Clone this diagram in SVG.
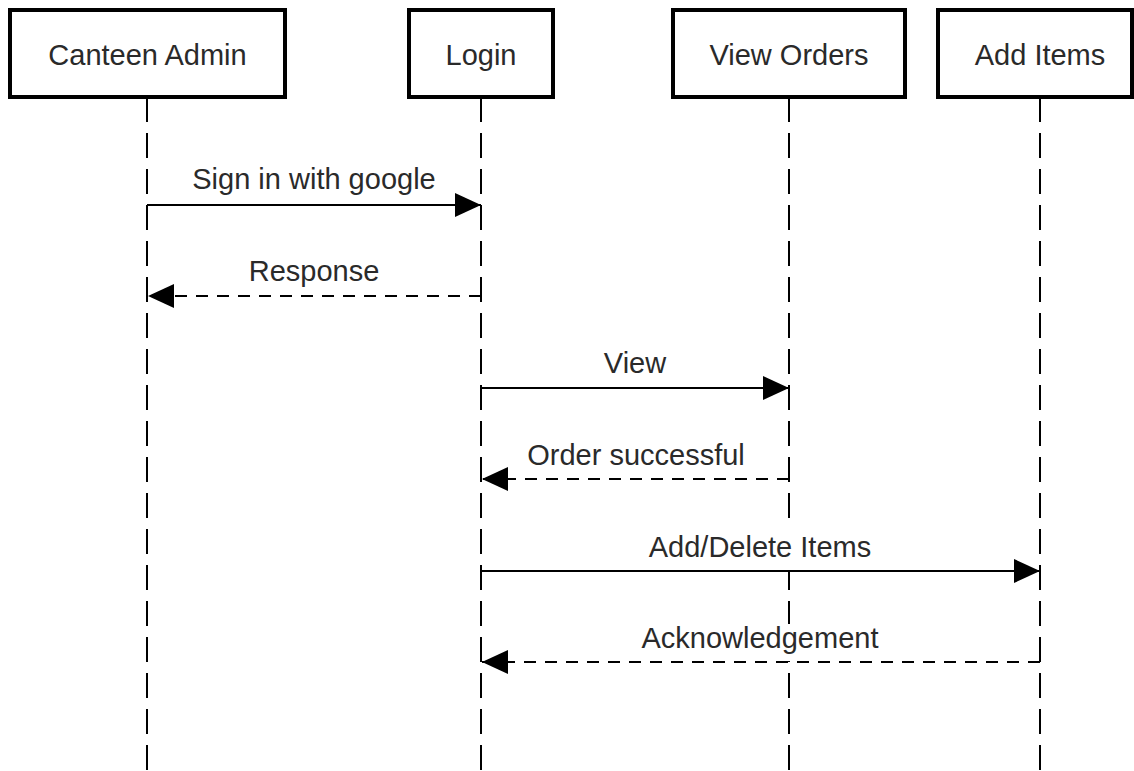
<svg xmlns="http://www.w3.org/2000/svg" width="1134" height="771" viewBox="0 0 1134 771">
  <defs>
    <style>
      .box { fill: #ffffff; stroke: #000000; stroke-width: 4; }
      .lbl { font-family: "Liberation Sans", Arial, sans-serif; font-size: 29px; fill: #2a2a2a; text-anchor: middle; }
      .life { stroke: #000000; stroke-width: 2; stroke-dasharray: 25 11; fill: none; }
      .msg { stroke: #000000; stroke-width: 2; fill: none; }
      .ret { stroke: #000000; stroke-width: 2; fill: none; stroke-dasharray: 12 9; }
      .lblbg { fill: #ffffff; }
    </style>
    <marker id="arrow" viewBox="0 0 26 24" refX="26" refY="12" markerWidth="26" markerHeight="24" markerUnits="userSpaceOnUse" orient="auto">
      <path d="M0,0 L26,12 L0,24 Z" fill="#000000"/>
    </marker>
  </defs>
  <rect width="1134" height="771" fill="#ffffff"/>

  <g id="lifelines">
    <line class="life" x1="147" y1="97" x2="147" y2="771"/>
    <line class="life" x1="481" y1="97" x2="481" y2="771"/>
    <line class="life" x1="789" y1="97" x2="789" y2="771"/>
    <line class="life" x1="1040" y1="97" x2="1040" y2="771"/>
  </g>

  <g id="node-canteen-admin">
    <rect class="box" x="10" y="10" width="275" height="87"/>
    <text class="lbl" x="147.5" y="65">Canteen Admin</text>
  </g>
  <g id="node-login">
    <rect class="box" x="409" y="10" width="144" height="87"/>
    <text class="lbl" x="481" y="65">Login</text>
  </g>
  <g id="node-view-orders">
    <rect class="box" x="673" y="10" width="232" height="87"/>
    <text class="lbl" x="789" y="65">View Orders</text>
  </g>
  <g id="node-add-items">
    <rect class="box" x="938" y="10" width="194" height="87"/>
    <text class="lbl" x="1040" y="65">Add Items</text>
  </g>

  <g id="connectors">
    <line class="msg" x1="147" y1="205" x2="481" y2="205" marker-end="url(#arrow)"/>
    <text class="lbl" x="314" y="189">Sign in with google</text>

    <line class="ret" x1="481" y1="296" x2="148" y2="296" marker-end="url(#arrow)"/>
    <text class="lbl" x="314" y="281">Response</text>

    <line class="msg" x1="481" y1="388" x2="789" y2="388" marker-end="url(#arrow)"/>
    <text class="lbl" x="635" y="373">View</text>

    <line class="ret" x1="789" y1="479" x2="482" y2="479" marker-end="url(#arrow)"/>
    <text class="lbl" x="636" y="465">Order successful</text>

    <rect class="lblbg" x="646" y="526" width="229" height="44"/>
    <line class="msg" x1="481" y1="571" x2="1040" y2="571" marker-end="url(#arrow)"/>
    <text class="lbl" x="760" y="557">Add/Delete Items</text>

    <rect class="lblbg" x="640" y="624" width="240" height="37"/>
    <line class="ret" x1="1040" y1="662" x2="482" y2="662" marker-end="url(#arrow)"/>
    <text class="lbl" x="760" y="648">Acknowledgement</text>
  </g>
</svg>
